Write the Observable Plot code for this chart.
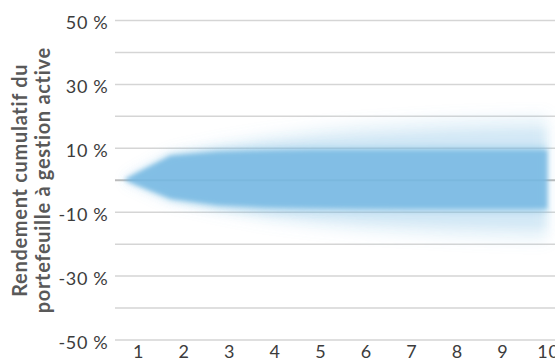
<!DOCTYPE html>
<html><head><meta charset="utf-8">
<script src="https://cdn.jsdelivr.net/npm/d3@7"></script>
<script src="https://cdn.jsdelivr.net/npm/@observablehq/plot@0.6"></script>
<style>body{margin:0;background:#fff}</style>
</head><body><div id="chart"></div>
<script>
// Tick labels / categories
const years = [1, 2, 3, 4, 5, 6, 7, 8, 9, 10];
const yTickValues = [50, 30, 10, -10, -30, -50];
const gridValues = [50, 40, 30, 20, 10, -10, -20, -30, -40, -50];
const titleLines = ["Rendement cumulatif du", "portefeuille à gestion active"];

// Fan band positions along x and band edges (cumulative return, %)
const bandX = [0.69, 1.72, 2.75, 3.78, 4.82, 5.85, 6.88, 7.91, 8.94, 9.98];
const outerUpper = [0, 8.3, 11.5, 14, 16, 17.5, 18.5, 19.3, 19.8, 20.2];
const outerLower = [0, -6.7, -10, -12.8, -14.8, -16.3, -17.3, -18.2, -18.8, -19.2];
const midUpper = [0, 8.2, 10.2, 11.8, 13, 14, 14.7, 15.3, 15.7, 16];
const midLower = [0, -6.6, -9.2, -11, -12.3, -13.3, -14, -14.6, -15, -15.3];
const innerUpper = [0, 8, 9.6, 10.2, 10.5, 10.6, 10.7, 10.8, 10.8, 10.8];
const innerLower = [0, -6.5, -8.7, -9.6, -10, -10.2, -10.3, -10.4, -10.4, -10.4];
const coreUpper = [0, 7.4, 8.6, 9, 9.2, 9.2, 9.2, 9.2, 9.2, 9.2];
const coreLower = [0, -5.9, -7.8, -8.5, -8.8, -8.9, -9, -9, -9, -9];

const layers = [
  {hi: outerUpper, lo: outerLower, opacity: 0.17, blur: 7},
  {hi: midUpper, lo: midLower, opacity: 0.18, blur: 5},
  {hi: innerUpper, lo: innerLower, opacity: 0.3, blur: 3},
  {hi: coreUpper, lo: coreLower, opacity: 0.8, blur: 2}
];
const bandColor = "#74b8e2";

const font = "Lato, 'Open Sans', sans-serif";

const areaMarks = layers.map(l => {
  const rows = bandX.map((x, i) => ({x, hi: l.hi[i], lo: l.lo[i]}));
  return Plot.areaY(rows, {x: "x", y1: "lo", y2: "hi", fill: bandColor, fillOpacity: l.opacity, curve: "linear"});
});

const plot = Plot.plot({
  width: 555,
  height: 363,
  marginLeft: 115,
  marginRight: 0,
  marginTop: 20,
  marginBottom: 23.5,
  style: {fontFamily: font, fontSize: "18px", color: "#3c3c3c", background: "#fff", letterSpacing: "0.7px"},
  x: {domain: [0.495, 10.154], label: null},
  y: {domain: [-50, 50], label: null},
  marks: [
    Plot.ruleY(gridValues, {stroke: "#d5d5d5", strokeWidth: 1.5}),
    Plot.ruleY([0], {stroke: "#bcbcbc", strokeWidth: 2}),
    ...areaMarks,
    Plot.axisY(yTickValues, {tickSize: 0, tickPadding: 7, tickFormat: d => `${d} %`, fontSize: 18, fill: "#3c3c3c", dy: 3, label: null}),
    Plot.axisX(years, {tickSize: 0, tickPadding: 5, tickFormat: d => `${d}`, fontSize: 18, fill: "#3c3c3c", label: null}),
    Plot.text([titleLines[0]], {text: d => d, frameAnchor: "left", rotate: -90, dx: -95, fontWeight: "bold", fontSize: 20, fill: "#595959", textAnchor: "middle"}),
    Plot.text([titleLines[1]], {text: d => d, frameAnchor: "left", rotate: -90, dx: -72, fontWeight: "bold", fontSize: 20, fill: "#595959", textAnchor: "middle"})
  ]
});

const svg = d3.select(plot);
const defs = svg.insert("defs", ":first-child");
layers.forEach((l, i) => {
  defs.append("filter").attr("id", "fanblur" + i)
    .attr("x", "-20%").attr("y", "-60%").attr("width", "140%").attr("height", "220%")
    .append("feGaussianBlur").attr("stdDeviation", l.blur);
});
svg.selectAll('g[aria-label="area"]').each(function(d, i) {
  d3.select(this).attr("filter", `url(#fanblur${i})`);
});

document.getElementById("chart").appendChild(plot);
</script>
</body></html>
